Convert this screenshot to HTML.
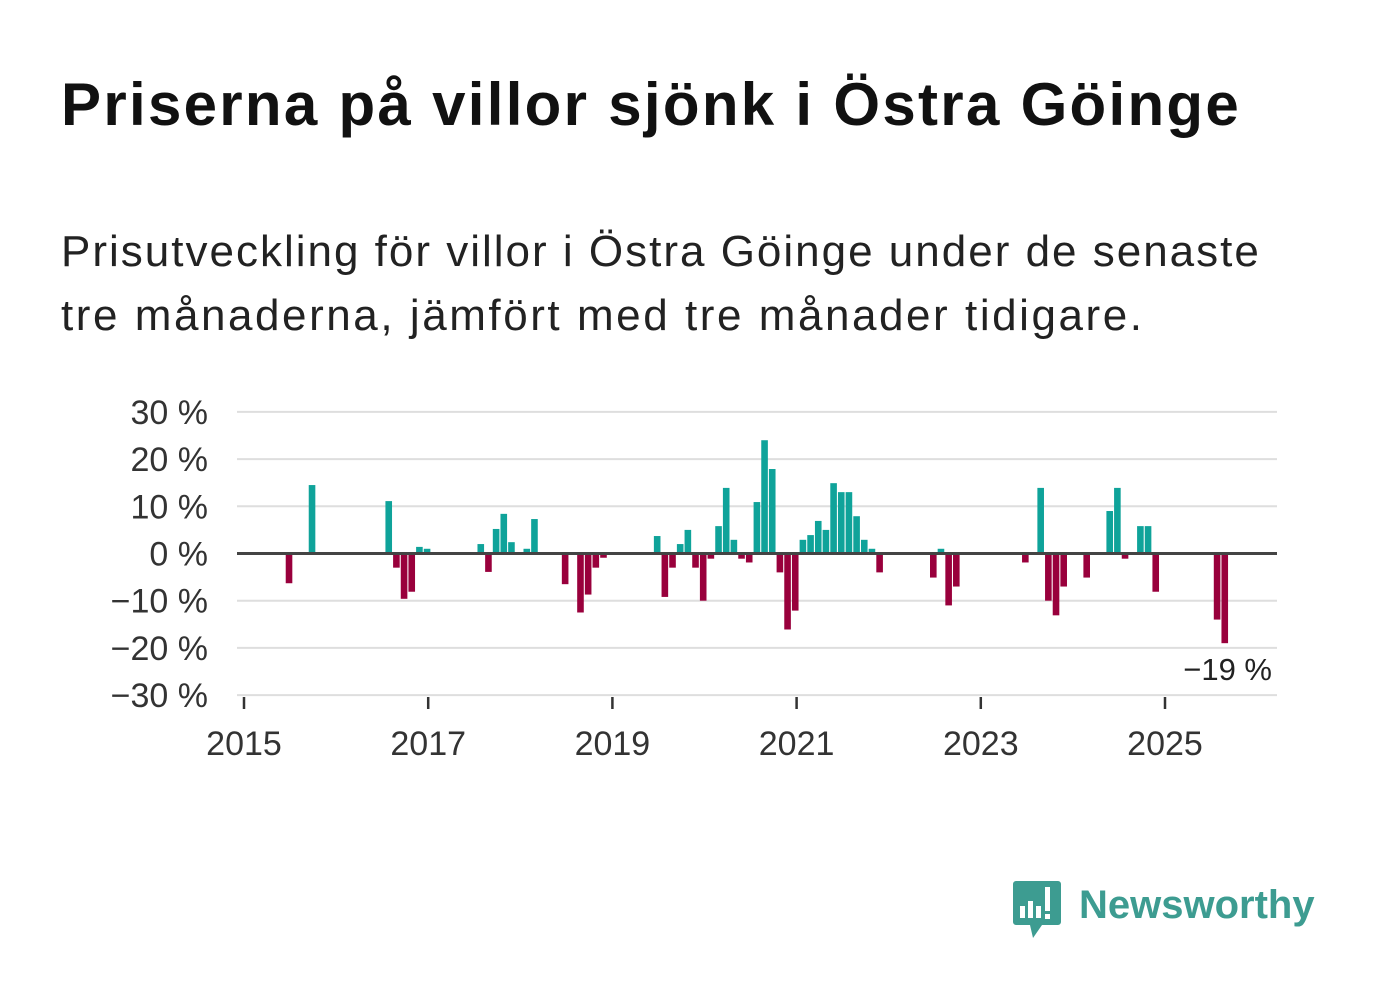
<!DOCTYPE html>
<html><head><meta charset="utf-8">
<style>
body{margin:0;background:#fff;width:1382px;height:999px;overflow:hidden;font-family:"Liberation Sans","DejaVu Sans",sans-serif;}
h1{position:absolute;left:61px;top:70px;margin:0;font-size:60px;font-weight:bold;color:#111;letter-spacing:2.3px;white-space:nowrap;}
.sub{position:absolute;left:61px;top:220px;margin:0;font-size:44px;line-height:64px;color:#222;white-space:nowrap;}
.l1{letter-spacing:2px;}
.l2{letter-spacing:2.55px;}
svg{position:absolute;left:0;top:0;}
</style></head><body>
<h1>Priserna på villor sjönk i Östra Göinge</h1>
<p class="sub"><span class="l1">Prisutveckling för villor i Östra Göinge under de senaste</span><br><span class="l2">tre månaderna, jämfört med tre månader tidigare.</span></p>
<svg id="chart" width="1382" height="999"></svg>
<script>
const monthIndex=[6,9,19,20,21,22,23,24,31,32,33,34,35,37,38,42,44,45,46,47,54,55,56,57,58,59,60,61,62,63,64,65,66,67,68,69,70,71,72,73,74,75,76,77,78,79,80,81,82,83,90,91,92,93,102,104,105,106,107,110,113,114,115,117,118,119,127,128];
const values=[-6.3,14.5,11.1,-3,-9.6,-8.1,1.4,1.0,2.0,-3.9,5.2,8.4,2.4,1.0,7.3,-6.5,-12.5,-8.7,-3,-0.9,3.7,-9.2,-3,2.0,5.0,-3,-10,-1.1,5.8,13.9,2.9,-1.1,-1.9,10.9,24.0,17.9,-4,-16.1,-12.1,2.9,3.9,6.9,5.0,14.9,13.0,13.0,7.9,2.9,1.0,-4,-5.1,1.0,-11,-7,-1.9,13.9,-10,-13.1,-7,-5.1,9,13.9,-1.1,5.8,5.8,-8.1,-14,-19];
const yTicks=[30,20,10,0,-10,-20,-30];
const yTickLabels=["30 %","20 %","10 %","0 %","−10 %","−20 %","−30 %"];
const xTickYears=[2015,2017,2019,2021,2023,2025];
const lastLabel="−19 %";
const NS="http://www.w3.org/2000/svg";
const svg=document.getElementById('chart');
const y=v=>553.5-v*4.72;
const xm=i=>243+i*7.67;
const xYear=yr=>244+(yr-2015)*92.1;
function mk(tag,attrs){const e=document.createElementNS(NS,tag);for(const k in attrs)e.setAttribute(k,attrs[k]);svg.appendChild(e);return e;}
yTicks.forEach((t,k)=>{
  if(t!==0){const g=mk('line',{x1:237,x2:1277,y1:y(t),y2:y(t),stroke:'#dedede','stroke-width':2});
  
  }
  const tx=mk('text',{x:208,y:y(t)+12,'text-anchor':'end','font-size':34,fill:'#333','font-family':'Liberation Sans, sans-serif'});
  tx.textContent=yTickLabels[k];
  
  
});
monthIndex.forEach((m,k)=>{
  const v=values[k];
  const r=mk('rect',{x:xm(m)-3.3,width:6.6,y:v>=0?y(v):y(0),height:Math.abs(y(v)-y(0)),fill:v>=0?'#0fa39a':'#99003c'});
  
  
});
const zl=mk('line',{x1:237,x2:1277,y1:y(0),y2:y(0),stroke:'#444','stroke-width':3});


xTickYears.forEach(yr=>{
  const t=mk('line',{x1:xYear(yr),x2:xYear(yr),y1:697,y2:709,stroke:'#333','stroke-width':2.5});
  
  
  const tx=mk('text',{x:xYear(yr),y:755,'text-anchor':'middle','font-size':34,fill:'#333','font-family':'Liberation Sans, sans-serif'});
  tx.textContent=yr;
  
  
});
const lastI=monthIndex.length-1;
const ll=mk('text',{x:1272,y:y(values[lastI])+37,'text-anchor':'end','font-size':31,fill:'#222','font-family':'Liberation Sans, sans-serif'});
ll.textContent=lastLabel;


</script>
<svg width="1382" height="999" style="pointer-events:none">
  <path d="M1016 881 h42 a3 3 0 0 1 3 3 v38 a3 3 0 0 1 -3 3 h-16 l-9 13 l-3 -13 h-14 a3 3 0 0 1 -3 -3 v-38 a3 3 0 0 1 3 -3z" fill="#3d9c91"/>
  <rect x="1020" y="906" width="5" height="12" fill="#fff"/>
  <rect x="1028" y="901" width="5" height="17" fill="#fff"/>
  <rect x="1036" y="906" width="5" height="12" fill="#fff"/>
  <rect x="1045" y="887" width="5" height="24" fill="#fff"/>
  <rect x="1045" y="914" width="5" height="5" fill="#fff"/>
  <text x="1079" y="918" font-size="40" font-weight="bold" fill="#3d9c91" font-family="Liberation Sans, sans-serif">Newsworthy</text>
</svg>
</body></html>
